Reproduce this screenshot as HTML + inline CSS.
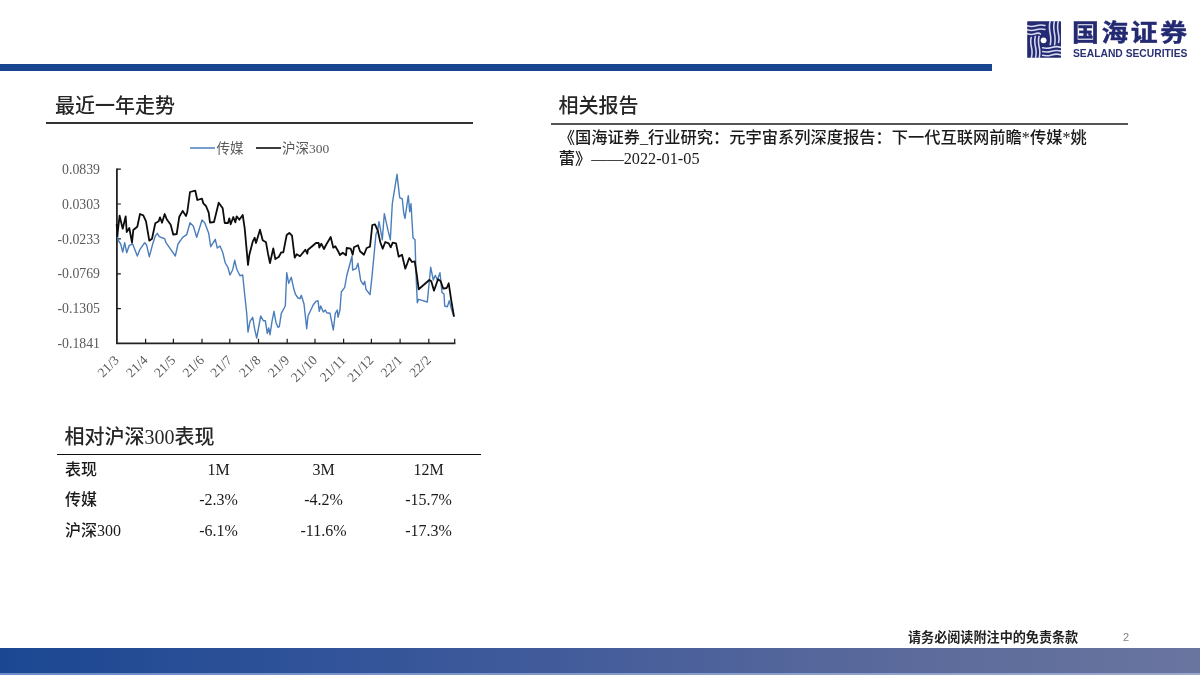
<!DOCTYPE html>
<html lang="zh-CN">
<head>
<meta charset="utf-8">
<title>国海证券</title>
<style>
html,body{margin:0;padding:0;}
body{width:1200px;height:675px;position:relative;overflow:hidden;background:#fff;
 font-family:"Liberation Serif","Noto Sans CJK SC",serif;color:#1a1a1a;}
.abs{position:absolute;white-space:nowrap;}
.topbar{position:absolute;left:0;top:63.5px;width:991.5px;height:7px;background:#1a4590;}
.footer{position:absolute;left:0;top:648px;width:1200px;height:25px;background:linear-gradient(90deg,#1b4792 0%,#2f5299 25%,#455d9b 50%,#5b6a9b 75%,#69759f 100%);}
.footline{position:absolute;left:0;top:673px;width:1200px;height:2px;background:linear-gradient(90deg,#6a8cc8,#9aa8cc);}
.h{font-size:20px;line-height:24px;color:#262626;font-weight:500;}
.rule{position:absolute;background:#333;}
.chart{position:absolute;left:0;top:0;}
.logo-cn{left:1072.3px;top:16px;font-family:"Liberation Sans","Noto Sans CJK SC",sans-serif;font-weight:700;font-size:23.6px;line-height:34px;letter-spacing:2.2px;color:#232a72;-webkit-text-stroke:0.45px #232a72;transform:scaleX(1.14);transform-origin:0 0;}
.logo-en{left:1073px;top:47.6px;font-family:"Liberation Sans",sans-serif;font-weight:bold;font-size:10.3px;line-height:12px;letter-spacing:0;color:#2b3173;}
table.perf{position:absolute;left:57px;top:455px;border-collapse:collapse;font-size:16px;}
table.perf td{height:30.4px;padding:0;text-align:center;width:105px;line-height:30.4px;font-weight:500;}
table.perf td:first-child{width:101px;text-align:left;padding-left:8px;}
.report{left:558.7px;top:128.25px;width:560px;font-size:16.25px;line-height:20.8px;white-space:nowrap;text-spacing-trim:space-all;font-weight:500;}
.disc{left:908px;top:629px;font-family:"Liberation Sans","Noto Sans CJK SC",sans-serif;font-size:13.1px;line-height:17px;font-weight:700;color:#222;}
.pg{left:1123px;top:630px;font-family:"Liberation Sans",sans-serif;font-size:11px;line-height:14px;color:#7f7f7f;}
</style>
</head>
<body>
<div class="topbar"></div>

<svg class="abs" style="left:1026.5px;top:20.8px" width="34.2" height="37" viewBox="0 0 34.2 37">
 <rect x="0.2" y="0.2" width="33.8" height="36.6" rx="0.6" fill="#232a72"/>
 <g fill="none" stroke="#d6d9f0" stroke-width="1.55" stroke-linecap="round">
  <path d="M0,4.8 q4.5,1.5 9,0 t9,-0.4"/>
  <path d="M0,8.8 q4.5,1.5 9,0 t9,-0.4"/>
  <path d="M0,12.8 q4.5,1.5 8,0 t5.5,0.2"/>
  <path d="M23.1,0 q-1.3,6 0,12 t0.2,11.6"/>
  <path d="M27.4,0 q-1.3,6 0,12 t0.2,11.6"/>
  <path d="M31.3,0 q-1.3,6 0,12 t0.2,9.5"/>
  <path d="M4.4,37 q1.3,-5.5 0,-11 t-0.2,-9.5"/>
  <path d="M8.5,37 q1.3,-5.5 0,-11 t-0.2,-10.6"/>
  <path d="M12.2,37 q1.3,-5.5 0,-11 t-0.2,-10.6"/>
  <path d="M34.2,26.4 q-4.5,-1.5 -9.5,0 t-9,0.4"/>
  <path d="M34.2,30.2 q-4.5,-1.5 -9.5,0 t-9,0.4"/>
  <path d="M34.2,33.9 q-4.5,-1.5 -9.5,0 t-9,0.4"/>
 </g>
 <circle cx="16.6" cy="19.3" r="2.9" fill="#fff"/>
</svg>
<div class="abs logo-cn">国海证券</div>
<div class="abs logo-en">SEALAND SECURITIES</div>

<div class="abs h" style="left:55px;top:93.7px;">最近一年走势</div>
<div class="rule" style="left:45.5px;top:121.9px;width:427px;height:1.8px;"></div>

<svg class="chart" width="1200" height="675" viewBox="0 0 1200 675">
<path d="M116.9,168.5 V343.3 H455.4" fill="none" stroke="#222" stroke-width="1.8"/>
<path d="M145.6,343 v-4.3 M173.4,343 v-4.3 M202.0,343 v-4.3 M229.8,343 v-4.3 M258.5,343 v-4.3 M287.2,343 v-4.3 M315.0,343 v-4.3 M343.6,343 v-4.3 M371.4,343 v-4.3 M400.1,343 v-4.3 M428.8,343 v-4.3 M454.7,343 v-4.3 M116.9,169.2 h4 M116.9,204.0 h4 M116.9,238.9 h4 M116.9,273.8 h4 M116.9,308.6 h4 " fill="none" stroke="#1a1a1a" stroke-width="1.2"/>
<path d="M116.7,224.0 L118.0,240.0 L120.7,244.0 L122.7,252.0 L124.7,242.7 L126.7,252.7 L129.3,245.3 L132.7,244.0 L137.3,256.0 L140.0,249.3 L144.7,242.7 L146.7,245.3 L149.3,256.7 L152.7,244.0 L155.3,236.0 L157.3,233.3 L159.3,236.7 L162.7,238.0 L164.7,238.7 L166.0,242.7 L175.3,256.0 L178.0,244.0 L182.7,237.3 L186.7,234.7 L190.0,222.7 L193.3,226.0 L196.7,237.3 L202.0,220.0 L204.7,222.7 L208.7,233.3 L210.7,246.7 L215.3,239.3 L217.3,248.0 L220.0,246.0 L222.7,252.3 L225.3,263.0 L228.0,267.7 L230.0,275.0 L232.7,269.7 L234.7,260.3 L236.7,269.0 L240.0,275.7 L242.7,275.0 L244.7,294.7 L246.7,313.3 L248.0,332.0 L250.0,321.3 L252.7,317.3 L254.7,329.3 L256.7,338.0 L260.7,316.0 L263.3,320.7 L265.3,320.7 L267.3,333.3 L268.7,328.0 L270.0,334.7 L272.0,321.3 L274.0,311.3 L276.0,322.7 L278.0,327.3 L279.3,326.7 L281.3,313.3 L285.3,306.0 L286.7,272.7 L288.7,283.3 L291.3,277.3 L293.3,286.7 L295.3,294.0 L298.0,298.0 L300.0,298.7 L301.3,295.3 L304.0,304.0 L306.7,328.7 L308.0,316.0 L313.3,304.7 L316.0,301.3 L318.0,300.7 L319.3,311.3 L320.7,306.0 L323.3,312.0 L325.3,310.0 L326.7,312.7 L330.0,313.3 L333.3,330.0 L335.3,313.3 L337.3,310.0 L338.0,317.3 L340.0,310.0 L341.3,292.0 L344.7,287.3 L346.7,276.0 L352.0,256.0 L352.7,270.0 L356.0,268.7 L358.0,263.3 L360.7,280.7 L363.3,284.7 L364.7,281.3 L366.0,289.3 L370.0,294.7 L372.0,276.7 L376.0,234.0 L377.7,230.3 L379.0,221.7 L382.3,239.7 L384.3,213.7 L388.3,231.7 L390.3,239.7 L392.3,203.7 L397.0,174.3 L399.7,197.7 L402.3,199.0 L403.7,213.0 L405.0,218.3 L408.3,195.7 L409.7,211.7 L411.0,203.7 L413.0,237.7 L415.0,239.7 L416.0,274.0 L417.3,302.7 L418.7,299.3 L427.3,302.0 L429.3,281.3 L430.7,267.3 L433.3,280.0 L435.3,275.3 L437.3,280.0 L440.0,272.7 L442.0,292.7 L444.0,294.0 L444.7,306.0 L447.3,306.7 L449.3,300.7 L451.3,308.7 L454.0,316.7" fill="none" stroke="#4a7ebb" stroke-width="1.4" stroke-linejoin="round"/>
<path d="M116.7,224.0 L117.3,236.0 L119.6,215.7 L122.7,228.7 L125.7,216.3 L126.7,232.0 L129.3,228.0 L132.0,242.7 L133.3,230.0 L137.3,226.7 L140.0,214.0 L143.3,215.3 L146.0,221.3 L149.3,240.7 L152.0,238.7 L155.3,223.3 L158.7,221.3 L160.0,217.3 L162.0,222.7 L164.7,214.0 L166.7,219.3 L170.7,224.7 L173.3,234.7 L176.7,234.0 L179.3,216.7 L182.7,210.9 L186.0,216.0 L187.3,212.0 L190.0,192.0 L195.3,190.7 L197.3,200.0 L202.0,198.7 L203.3,203.3 L206.0,206.0 L208.7,212.7 L210.0,222.7 L214.0,222.0 L218.7,202.7 L222.7,208.3 L224.7,223.0 L228.0,223.0 L229.3,218.3 L230.7,224.3 L233.3,217.0 L235.3,222.3 L236.7,216.3 L239.3,219.7 L242.7,215.0 L244.7,228.3 L248.0,265.0 L249.3,255.0 L252.7,241.7 L254.7,237.7 L256.0,243.0 L260.0,229.7 L262.7,240.3 L266.0,242.3 L268.0,253.7 L270.0,263.0 L273.3,248.3 L275.3,259.0 L278.7,257.0 L281.3,252.3 L283.3,252.3 L286.7,235.0 L289.3,233.0 L292.0,235.7 L294.7,257.7 L296.7,254.3 L300.0,256.3 L305.3,249.7 L307.3,253.7 L308.0,249.7 L316.0,243.0 L318.7,243.0 L319.3,247.7 L321.3,243.7 L324.0,249.0 L326.0,245.0 L330.7,237.0 L333.3,247.7 L335.3,246.3 L338.0,251.0 L340.0,255.0 L342.7,252.7 L346.0,255.3 L346.7,248.0 L350.7,248.7 L352.7,254.7 L354.0,247.3 L358.0,245.3 L360.0,251.3 L364.0,254.7 L366.7,248.0 L370.0,246.7 L372.3,225.0 L375.0,224.3 L377.7,230.3 L380.3,242.3 L382.7,248.7 L385.3,242.0 L388.7,243.3 L390.7,247.3 L392.7,242.7 L396.0,243.3 L398.7,256.7 L402.0,254.7 L405.3,268.7 L409.3,258.0 L412.0,262.0 L414.7,261.3 L416.7,274.0 L418.7,289.3 L429.3,280.0 L431.3,281.3 L434.0,290.7 L438.0,279.3 L440.7,281.3 L443.3,288.7 L446.7,288.0 L448.7,283.3 L451.3,300.7 L454.0,316.7" fill="none" stroke="#0d0d0d" stroke-width="1.8" stroke-linejoin="round"/>
<g font-family="'Liberation Serif','Noto Sans CJK SC',serif" font-size="13.5" fill="#595959">
<text x="100" y="173.8" text-anchor="end" font-size="13.8">0.0839</text>
<text x="100" y="208.6" text-anchor="end" font-size="13.8">0.0303</text>
<text x="100" y="243.5" text-anchor="end" font-size="13.8">-0.0233</text>
<text x="100" y="278.4" text-anchor="end" font-size="13.8">-0.0769</text>
<text x="100" y="313.2" text-anchor="end" font-size="13.8">-0.1305</text>
<text x="100" y="348.1" text-anchor="end" font-size="13.8">-0.1841</text>
<text transform="translate(119.9,361.0) rotate(-45)" text-anchor="end">21/3</text>
<text transform="translate(148.6,361.0) rotate(-45)" text-anchor="end">21/4</text>
<text transform="translate(176.4,361.0) rotate(-45)" text-anchor="end">21/5</text>
<text transform="translate(205.0,361.0) rotate(-45)" text-anchor="end">21/6</text>
<text transform="translate(232.8,361.0) rotate(-45)" text-anchor="end">21/7</text>
<text transform="translate(261.5,361.0) rotate(-45)" text-anchor="end">21/8</text>
<text transform="translate(290.2,361.0) rotate(-45)" text-anchor="end">21/9</text>
<text transform="translate(318.0,361.0) rotate(-45)" text-anchor="end">21/10</text>
<text transform="translate(346.6,361.0) rotate(-45)" text-anchor="end">21/11</text>
<text transform="translate(374.4,361.0) rotate(-45)" text-anchor="end">21/12</text>
<text transform="translate(403.1,361.0) rotate(-45)" text-anchor="end">22/1</text>
<text transform="translate(431.8,361.0) rotate(-45)" text-anchor="end">22/2</text>
<path d="M190,148 H215" stroke="#4a7ebb" stroke-width="1.5"/>
<path d="M256,148 H281" stroke="#0d0d0d" stroke-width="1.6"/>
<text x="216.5" y="152.8">传媒</text>
<text x="282" y="152.8">沪深300</text>
</g></svg>

<div class="abs h" style="left:64.5px;top:424.5px;">相对沪深300表现</div>
<div class="rule" style="left:57px;top:453.8px;width:423.5px;height:1.2px;background:#111;"></div>
<table class="perf">
 <tr><td>表现</td><td>1M</td><td>3M</td><td>12M</td></tr>
 <tr><td>传媒</td><td>-2.3%</td><td>-4.2%</td><td>-15.7%</td></tr>
 <tr><td>沪深300</td><td>-6.1%</td><td>-11.6%</td><td>-17.3%</td></tr>
</table>

<div class="abs h" style="left:558.5px;top:93.7px;">相关报告</div>
<div class="rule" style="left:551px;top:123.2px;width:576.5px;height:2px;background:#555;"></div>
<div class="abs report">《国海证券_行业研究：元宇宙系列深度报告：下一代互联网前瞻*传媒*姚<br>蕾》——2022-01-05</div>

<div class="abs disc">请务必阅读附注中的免责条款</div>
<div class="abs pg">2</div>

<div class="footer"></div>
<div class="footline"></div>
</body>
</html>
